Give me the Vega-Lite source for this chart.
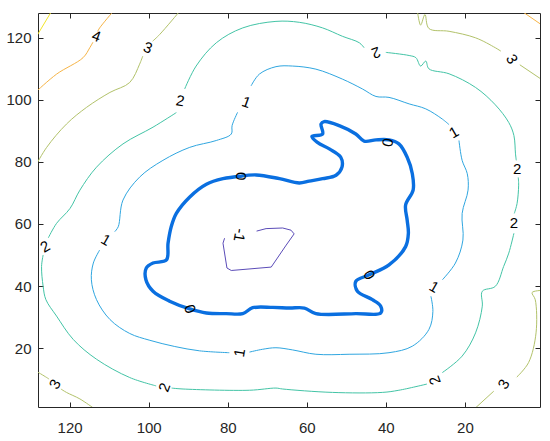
{
"$schema":"https://vega.github.io/schema/vega-lite/v6.json",
"width":502,"height":394,"autosize":"none",
"padding":{"left":38,"top":13,"right":10,"bottom":34},
"background":"white",
"config":{"view":{"stroke":"#262626","strokeWidth":1},"axis":{"grid":false,"domain":false,"labelFont":"Liberation Sans","labelFontSize":14,"labelColor":"#262626","tickColor":"#262626","tickSize":-5,"tickWidth":1,"title":null}},
"datasets":{
"L":[
{"c":"m1","l":-1,"i":0,"x":72.7,"y":57.7},{"c":"m1","l":-1,"i":1,"x":70.3,"y":58.5},{"c":"m1","l":-1,"i":2,"x":66.1,"y":58.7},{"c":"m1","l":-1,"i":3,"x":64.0,"y":58.0},{"c":"m1","l":-1,"i":4,"x":63.2,"y":56.8},{"c":"m1","l":-1,"i":5,"x":65.2,"y":53.2},{"c":"m1","l":-1,"i":6,"x":69.0,"y":46.1},{"c":"m1","l":-1,"i":7,"x":79.1,"y":45.0},{"c":"m1","l":-1,"i":8,"x":80.2,"y":45.8},{"c":"m1","l":-1,"i":9,"x":81.2,"y":53.8},{"c":"m1","l":-1,"i":10,"x":80.8,"y":55.4},
{"c":"b0","l":0,"i":0,"x":76.6,"y":75.4},{"c":"b0","l":0,"i":1,"x":72.8,"y":75.8},{"c":"b0","l":0,"i":2,"x":66.9,"y":74.6},{"c":"b0","l":0,"i":3,"x":61.9,"y":73.2},{"c":"b0","l":0,"i":4,"x":59.4,"y":73.8},{"c":"b0","l":0,"i":5,"x":56.0,"y":74.6},{"c":"b0","l":0,"i":6,"x":52.6,"y":75.7},{"c":"b0","l":0,"i":7,"x":51.1,"y":78.3},{"c":"b0","l":0,"i":8,"x":51.4,"y":81.5},{"c":"b0","l":0,"i":9,"x":54.3,"y":84.2},{"c":"b0","l":0,"i":10,"x":57.3,"y":86.3},{"c":"b0","l":0,"i":11,"x":58.7,"y":88.2},{"c":"b0","l":0,"i":12,"x":56.0,"y":89.0},{"c":"b0","l":0,"i":13,"x":56.4,"y":92.2},{"c":"b0","l":0,"i":14,"x":55.6,"y":93.0},{"c":"b0","l":0,"i":15,"x":51.8,"y":91.7},{"c":"b0","l":0,"i":16,"x":47.6,"y":89.0},{"c":"b0","l":0,"i":17,"x":45.5,"y":86.7},{"c":"b0","l":0,"i":18,"x":42.5,"y":87.1},{"c":"b0","l":0,"i":19,"x":39.2,"y":87.1},{"c":"b0","l":0,"i":20,"x":36.7,"y":85.8},{"c":"b0","l":0,"i":21,"x":34.6,"y":81.5},{"c":"b0","l":0,"i":22,"x":33.3,"y":76.2},{"c":"b0","l":0,"i":23,"x":33.1,"y":70.9},{"c":"b0","l":0,"i":24,"x":35.0,"y":66.1},{"c":"b0","l":0,"i":25,"x":34.6,"y":61.2},{"c":"b0","l":0,"i":26,"x":34.3,"y":57.0},{"c":"b0","l":0,"i":27,"x":35.0,"y":52.7},{"c":"b0","l":0,"i":28,"x":39.2,"y":46.8},{"c":"b0","l":0,"i":29,"x":44.2,"y":43.6},{"c":"b0","l":0,"i":30,"x":47.6,"y":41.5},{"c":"b0","l":0,"i":31,"x":47.2,"y":38.3},{"c":"b0","l":0,"i":32,"x":43.4,"y":35.6},{"c":"b0","l":0,"i":33,"x":41.3,"y":33.5},{"c":"b0","l":0,"i":34,"x":41.3,"y":31.3},{"c":"b0","l":0,"i":35,"x":47.6,"y":31.1},{"c":"b0","l":0,"i":36,"x":57.7,"y":31.1},{"c":"b0","l":0,"i":37,"x":60.6,"y":32.9},{"c":"b0","l":0,"i":38,"x":64.4,"y":32.9},{"c":"b0","l":0,"i":39,"x":68.6,"y":33.1},{"c":"b0","l":0,"i":40,"x":73.7,"y":33.0},{"c":"b0","l":0,"i":41,"x":76.2,"y":31.1},{"c":"b0","l":0,"i":42,"x":80.4,"y":31.1},{"c":"b0","l":0,"i":43,"x":85.4,"y":31.3},{"c":"b0","l":0,"i":44,"x":89.6,"y":32.6},{"c":"b0","l":0,"i":45,"x":94.7,"y":35.1},{"c":"b0","l":0,"i":46,"x":98.9,"y":38.3},{"c":"b0","l":0,"i":47,"x":100.7,"y":42.0},{"c":"b0","l":0,"i":48,"x":100.6,"y":45.8},{"c":"b0","l":0,"i":49,"x":98.9,"y":47.4},{"c":"b0","l":0,"i":50,"x":95.5,"y":48.4},{"c":"b0","l":0,"i":51,"x":95.1,"y":53.8},{"c":"b0","l":0,"i":52,"x":94.3,"y":59.1},{"c":"b0","l":0,"i":53,"x":93.0,"y":63.4},{"c":"b0","l":0,"i":54,"x":89.6,"y":68.7},{"c":"b0","l":0,"i":55,"x":85.4,"y":72.8},{"c":"b0","l":0,"i":56,"x":81.2,"y":74.6},{"c":"b0","l":0,"i":57,"x":76.6,"y":75.4},
{"c":"1a","l":1,"i":0,"x":74.1,"y":104.5},{"c":"1a","l":1,"i":1,"x":72.0,"y":108.3},{"c":"1a","l":1,"i":2,"x":67.8,"y":110.7},{"c":"1a","l":1,"i":3,"x":63.6,"y":110.9},{"c":"1a","l":1,"i":4,"x":57.7,"y":109.9},{"c":"1a","l":1,"i":5,"x":51.0,"y":106.7},{"c":"1a","l":1,"i":6,"x":45.9,"y":103.5},{"c":"1a","l":1,"i":7,"x":42.5,"y":101.1},{"c":"1a","l":1,"i":8,"x":39.2,"y":100.8},{"c":"1a","l":1,"i":9,"x":34.1,"y":98.7},{"c":"1a","l":1,"i":10,"x":29.9,"y":97.1},{"c":"1a","l":1,"i":11,"x":25.7,"y":93.8},{"c":"1a","l":1,"i":12,"x":24.0,"y":92.0},
{"c":"1b","l":1,"i":0,"x":21.5,"y":86.9},{"c":"1b","l":1,"i":1,"x":20.7,"y":80.5},{"c":"1b","l":1,"i":2,"x":19.4,"y":76.2},{"c":"1b","l":1,"i":3,"x":19.2,"y":70.9},{"c":"1b","l":1,"i":4,"x":20.7,"y":63.4},{"c":"1b","l":1,"i":5,"x":20.5,"y":54.8},{"c":"1b","l":1,"i":6,"x":22.4,"y":47.4},{"c":"1b","l":1,"i":7,"x":25.7,"y":42.0},
{"c":"1c","l":1,"i":0,"x":28.6,"y":36.7},{"c":"1c","l":1,"i":1,"x":28.1,"y":31.8},{"c":"1c","l":1,"i":2,"x":29.1,"y":26.0},{"c":"1c","l":1,"i":3,"x":33.3,"y":20.6},{"c":"1c","l":1,"i":4,"x":39.2,"y":18.5},{"c":"1c","l":1,"i":5,"x":49.3,"y":18.0},{"c":"1c","l":1,"i":6,"x":57.7,"y":18.0},{"c":"1c","l":1,"i":7,"x":63.6,"y":19.4},{"c":"1c","l":1,"i":8,"x":67.8,"y":20.1},{"c":"1c","l":1,"i":9,"x":71.2,"y":19.6},{"c":"1c","l":1,"i":10,"x":74.5,"y":18.7},
{"c":"1d","l":1,"i":0,"x":79.6,"y":18.5},{"c":"1d","l":1,"i":1,"x":87.1,"y":19.1},{"c":"1d","l":1,"i":2,"x":93.4,"y":20.5},{"c":"1d","l":1,"i":3,"x":99.7,"y":22.5},{"c":"1d","l":1,"i":4,"x":104.8,"y":24.7},{"c":"1d","l":1,"i":5,"x":109.8,"y":29.2},{"c":"1d","l":1,"i":6,"x":113.2,"y":35.6},{"c":"1d","l":1,"i":7,"x":114.5,"y":42.0},{"c":"1d","l":1,"i":8,"x":114.0,"y":47.4},{"c":"1d","l":1,"i":9,"x":112.4,"y":51.6},
{"c":"1e","l":1,"i":0,"x":108.6,"y":57.5},{"c":"1e","l":1,"i":1,"x":107.7,"y":59.1},{"c":"1e","l":1,"i":2,"x":106.5,"y":67.7},{"c":"1e","l":1,"i":3,"x":102.3,"y":75.1},{"c":"1e","l":1,"i":4,"x":96.4,"y":80.5},{"c":"1e","l":1,"i":5,"x":89.6,"y":84.7},{"c":"1e","l":1,"i":6,"x":82.9,"y":86.9},{"c":"1e","l":1,"i":7,"x":79.1,"y":89.0},{"c":"1e","l":1,"i":8,"x":78.9,"y":91.7},{"c":"1e","l":1,"i":9,"x":77.5,"y":96.0},
{"c":"2a","l":2,"i":0,"x":90.9,"y":103.5},{"c":"2a","l":2,"i":1,"x":88.0,"y":110.9},{"c":"2a","l":2,"i":2,"x":82.9,"y":118.4},{"c":"2a","l":2,"i":3,"x":76.2,"y":123.2},{"c":"2a","l":2,"i":4,"x":67.8,"y":125.3},{"c":"2a","l":2,"i":5,"x":61.9,"y":125.0},{"c":"2a","l":2,"i":6,"x":56.0,"y":123.2},{"c":"2a","l":2,"i":7,"x":51.0,"y":120.5},{"c":"2a","l":2,"i":8,"x":46.7,"y":118.4},{"c":"2a","l":2,"i":9,"x":45.5,"y":116.8},
{"c":"2b","l":2,"i":0,"x":40.0,"y":115.3},{"c":"2b","l":2,"i":1,"x":34.1,"y":114.3},{"c":"2b","l":2,"i":2,"x":32.4,"y":113.6},{"c":"2b","l":2,"i":3,"x":31.2,"y":110.9},{"c":"2b","l":2,"i":4,"x":29.9,"y":112.5},{"c":"2b","l":2,"i":5,"x":29.1,"y":110.0},{"c":"2b","l":2,"i":6,"x":24.0,"y":108.4},{"c":"2b","l":2,"i":7,"x":17.3,"y":104.0},{"c":"2b","l":2,"i":8,"x":12.3,"y":98.4},{"c":"2b","l":2,"i":9,"x":8.9,"y":92.7},{"c":"2b","l":2,"i":10,"x":7.6,"y":88.5},{"c":"2b","l":2,"i":11,"x":7.2,"y":82.6},{"c":"2b","l":2,"i":12,"x":7.0,"y":80.5},
{"c":"2c","l":2,"i":0,"x":6.5,"y":75.0},{"c":"2c","l":2,"i":1,"x":6.4,"y":72.5},{"c":"2c","l":2,"i":2,"x":6.8,"y":66.6},{"c":"2c","l":2,"i":3,"x":7.5,"y":63.4},
{"c":"2d","l":2,"i":0,"x":7.6,"y":57.0},{"c":"2d","l":2,"i":1,"x":8.9,"y":50.6},{"c":"2d","l":2,"i":2,"x":10.2,"y":46.3},{"c":"2d","l":2,"i":3,"x":12.3,"y":39.9},{"c":"2d","l":2,"i":4,"x":15.6,"y":38.3},{"c":"2d","l":2,"i":5,"x":15.6,"y":33.5},{"c":"2d","l":2,"i":6,"x":17.3,"y":24.9},{"c":"2d","l":2,"i":7,"x":20.7,"y":17.4},{"c":"2d","l":2,"i":8,"x":25.7,"y":12.1},
{"c":"2e","l":2,"i":0,"x":29.6,"y":8.4},{"c":"2e","l":2,"i":1,"x":36.7,"y":6.4},{"c":"2e","l":2,"i":2,"x":40.9,"y":5.7},{"c":"2e","l":2,"i":3,"x":53.5,"y":5.7},{"c":"2e","l":2,"i":4,"x":66.1,"y":6.8},{"c":"2e","l":2,"i":5,"x":67.8,"y":7.1},{"c":"2e","l":2,"i":6,"x":74.5,"y":6.4},{"c":"2e","l":2,"i":7,"x":91.3,"y":6.8},{"c":"2e","l":2,"i":8,"x":94.2,"y":7.1},
{"c":"2f","l":2,"i":0,"x":98.1,"y":7.8},{"c":"2f","l":2,"i":1,"x":104.8,"y":10.5},{"c":"2f","l":2,"i":2,"x":113.2,"y":16.4},{"c":"2f","l":2,"i":3,"x":119.1,"y":22.8},{"c":"2f","l":2,"i":4,"x":123.3,"y":30.3},{"c":"2f","l":2,"i":5,"x":126.0,"y":35.6},{"c":"2f","l":2,"i":6,"x":126.7,"y":39.9},{"c":"2f","l":2,"i":7,"x":127.1,"y":46.3},{"c":"2f","l":2,"i":8,"x":126.7,"y":50.0},
{"c":"2g","l":2,"i":0,"x":125.4,"y":55.5},{"c":"2g","l":2,"i":1,"x":123.3,"y":60.2},{"c":"2g","l":2,"i":2,"x":119.9,"y":65.0},{"c":"2g","l":2,"i":3,"x":117.4,"y":70.9},{"c":"2g","l":2,"i":4,"x":113.2,"y":78.3},{"c":"2g","l":2,"i":5,"x":106.5,"y":85.8},{"c":"2g","l":2,"i":6,"x":98.9,"y":91.2},{"c":"2g","l":2,"i":7,"x":93.0,"y":95.9},
{"c":"3a","l":3,"i":0,"x":92.2,"y":128.5},{"c":"3a","l":3,"i":1,"x":97.2,"y":121.1},{"c":"3a","l":3,"i":2,"x":99.0,"y":118.9},
{"c":"3b","l":3,"i":0,"x":101.5,"y":114.1},{"c":"3b","l":3,"i":1,"x":102.3,"y":111.5},{"c":"3b","l":3,"i":2,"x":104.8,"y":105.6},{"c":"3b","l":3,"i":3,"x":109.8,"y":102.4},{"c":"3b","l":3,"i":4,"x":115.7,"y":97.6},{"c":"3b","l":3,"i":5,"x":120.8,"y":92.2},{"c":"3b","l":3,"i":6,"x":125.8,"y":84.7},{"c":"3b","l":3,"i":7,"x":128.5,"y":79.0},
{"c":"3c","l":3,"i":0,"x":32.0,"y":128.5},{"c":"3c","l":3,"i":1,"x":31.2,"y":124.1},{"c":"3c","l":3,"i":2,"x":30.1,"y":127.5},{"c":"3c","l":3,"i":3,"x":29.1,"y":123.0},{"c":"3c","l":3,"i":4,"x":24.0,"y":122.1},{"c":"3c","l":3,"i":5,"x":17.3,"y":120.0},{"c":"3c","l":3,"i":6,"x":12.3,"y":116.8},{"c":"3c","l":3,"i":7,"x":10.9,"y":115.7},
{"c":"3d","l":3,"i":0,"x":6.1,"y":111.3},{"c":"3d","l":3,"i":1,"x":0.5,"y":106.5},
{"c":"3e","l":3,"i":0,"x":128.5,"y":12.6},{"c":"3e","l":3,"i":1,"x":125.8,"y":10.5},{"c":"3e","l":3,"i":2,"x":125.2,"y":10.0},
{"c":"3f","l":3,"i":0,"x":122.2,"y":6.8},{"c":"3f","l":3,"i":1,"x":120.8,"y":5.7},{"c":"3f","l":3,"i":2,"x":117.4,"y":3.6},{"c":"3f","l":3,"i":3,"x":113.8,"y":0.5},
{"c":"3g","l":3,"i":0,"x":0.5,"y":38.6},{"c":"3g","l":3,"i":1,"x":3.0,"y":37.9},{"c":"3g","l":3,"i":2,"x":2.2,"y":35.6},{"c":"3g","l":3,"i":3,"x":2.0,"y":24.9},{"c":"3g","l":3,"i":4,"x":3.9,"y":15.3},{"c":"3g","l":3,"i":5,"x":6.9,"y":10.6},
{"c":"3h","l":3,"i":0,"x":12.7,"y":6.1},{"c":"3h","l":3,"i":1,"x":17.5,"y":0.5},
{"c":"4a","l":4,"i":0,"x":109.0,"y":128.5},{"c":"4a","l":4,"i":1,"x":112.4,"y":123.2},{"c":"4a","l":4,"i":2,"x":112.9,"y":122.1},
{"c":"4b","l":4,"i":0,"x":114.1,"y":118.6},{"c":"4b","l":4,"i":1,"x":114.9,"y":116.8},{"c":"4b","l":4,"i":2,"x":116.6,"y":113.6},{"c":"4b","l":4,"i":3,"x":123.3,"y":108.3},{"c":"4b","l":4,"i":4,"x":128.5,"y":102.6},
{"c":"4c","l":4,"i":0,"x":5.5,"y":128.5},{"c":"4c","l":4,"i":1,"x":0.5,"y":124.1},
{"c":"5a","l":5,"i":0,"x":124.6,"y":128.5},{"c":"5a","l":5,"i":1,"x":128.5,"y":120.2}
],
"T":[
{"t":"1","x":75.3,"y":99.2,"a":20},{"t":"1","x":22.8,"y":89.5,"a":-30},{"t":"1","x":27.8,"y":39.7,"a":30},{"t":"1","x":77.0,"y":18.5,"a":-80},{"t":"1","x":110.8,"y":54.8,"a":30},
{"t":"2","x":92.0,"y":99.7,"a":10},{"t":"2","x":42.5,"y":115.2,"a":160},{"t":"2","x":6.8,"y":77.8,"a":0},{"t":"2","x":7.6,"y":60.2,"a":0},{"t":"2","x":27.6,"y":9.6,"a":-110},{"t":"2","x":96.0,"y":7.3,"a":-70},{"t":"2","x":126.2,"y":52.7,"a":-30},
{"t":"3","x":100.2,"y":116.8,"a":20},{"t":"3","x":8.1,"y":113.1,"a":60},{"t":"3","x":123.7,"y":8.4,"a":-60},{"t":"3","x":10.2,"y":8.4,"a":-60},
{"t":"4","x":113.2,"y":120.5,"a":20},
{"t":"-1","x":77.0,"y":56.4,"a":100},
{"t":"0","x":76.6,"y":75.4,"a":90},{"t":"0","x":89.6,"y":32.6,"a":70},{"t":"0","x":39.6,"y":86.3,"a":100},{"t":"0","x":44.2,"y":43.6,"a":60}
]
},
"layer":[
{"data":{"name":"L"},"transform":[{"filter":"datum.l > 0"}],
 "mark":{"type":"line","strokeWidth":1,"clip":true,"strokeJoin":"round","interpolate":"catmull-rom"},
 "encoding":{
  "x":{"field":"x","type":"quantitative","scale":{"domain":[1,128],"reverse":true,"nice":false,"zero":false},"axis":{"orient":"bottom","values":[20,40,60,80,100,120],"labelPadding":18,"labelFontSize":15}},
  "y":{"field":"y","type":"quantitative","scale":{"domain":[1,128],"nice":false,"zero":false},"axis":{"orient":"left","values":[20,40,60,80,100,120],"labelPadding":12,"labelFontSize":15}},
  "detail":{"field":"c"},"order":{"field":"i","type":"quantitative"},
  "color":{"field":"l","type":"nominal","scale":{"domain":[1,2,3,4,5],"range":["#2fa6e0","#43c4a6","#b2c26a","#f6b446","#f2e528"]},"legend":null}}},
{"data":{"name":"L"},"transform":[{"filter":"datum.l == -1"}],
 "mark":{"type":"line","strokeWidth":1,"clip":true,"color":"#5b4cb8","strokeJoin":"round"},
 "encoding":{
  "x":{"field":"x","type":"quantitative","scale":{"domain":[1,128],"reverse":true,"nice":false,"zero":false},"axis":null},
  "y":{"field":"y","type":"quantitative","scale":{"domain":[1,128],"nice":false,"zero":false},"axis":null},
  "detail":{"field":"c"},"order":{"field":"i","type":"quantitative"}}},
{"data":{"name":"L"},"transform":[{"filter":"datum.l == 0"}],
 "mark":{"type":"line","strokeWidth":3.4,"clip":true,"color":"#0a6fe0","strokeJoin":"round","strokeCap":"round","interpolate":"catmull-rom"},
 "encoding":{
  "x":{"field":"x","type":"quantitative","scale":{"domain":[1,128],"reverse":true,"nice":false,"zero":false},"axis":null},
  "y":{"field":"y","type":"quantitative","scale":{"domain":[1,128],"nice":false,"zero":false},"axis":null},
  "detail":{"field":"c"},"order":{"field":"i","type":"quantitative"}}},
{"data":{"name":"T"},
 "mark":{"type":"text","font":"Liberation Sans","fontSize":15,"color":"#000000","align":"center","baseline":"middle"},
 "encoding":{
  "x":{"field":"x","type":"quantitative","scale":{"domain":[1,128],"reverse":true,"nice":false,"zero":false},"axis":null},
  "y":{"field":"y","type":"quantitative","scale":{"domain":[1,128],"nice":false,"zero":false},"axis":null},
  "text":{"field":"t"},"angle":{"field":"a","type":"quantitative","scale":null}}},
{"data":{"name":"T"},
 "mark":{"type":"point","opacity":0},
 "encoding":{
  "x":{"field":"x","type":"quantitative","scale":{"domain":[1,128],"reverse":true,"nice":false,"zero":false},"axis":{"orient":"top","values":[20,40,60,80,100,120],"labels":false}},
  "y":{"field":"y","type":"quantitative","scale":{"domain":[1,128],"nice":false,"zero":false},"axis":{"orient":"right","values":[20,40,60,80,100,120],"labels":false}}}}
],
"resolve":{"axis":{"x":"independent","y":"independent"}}
}
